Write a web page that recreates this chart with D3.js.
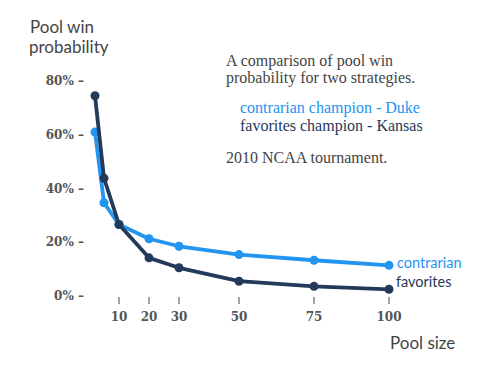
<!DOCTYPE html>
<html>
<head>
<meta charset="utf-8">
<script src="https://cdn.jsdelivr.net/npm/d3@7"></script>
<style>
  body { margin: 0; background: #fff; }
  svg { display: block; }
  .tick-lbl { font-family: "DejaVu Serif", serif; font-weight: bold; font-size: 12px; fill: #555; }
  .ttl { font-family: "Lato", sans-serif; font-size: 17px; fill: #444; }
  .note { font-family: "Liberation Serif", serif; font-size: 16px; fill: #444; }
</style>
</head>
<body>
<div id="chart"></div>
<script>
const poolSizes = [2, 5, 10, 20, 30, 50, 75, 100];
const contrarian = [61, 34.7, 26.6, 21.3, 18.5, 15.4, 13.3, 11.4];
const favorites = [74.5, 43.8, 26.6, 14.2, 10.5, 5.5, 3.6, 2.5];
const xTicks = [10, 20, 30, 50, 75, 100];
const yTicks = [0, 20, 40, 60, 80];
const noteLines = [
  { text: "A comparison of pool win", cls: "plain" },
  { text: "probability for two strategies.", cls: "plain" },
  { text: "contrarian champion - Duke", cls: "blue" },
  { text: "favorites champion - Kansas", cls: "dark" },
  { text: "2010 NCAA tournament.", cls: "plain" }
];

const width = 489, height = 374;
const blue = "#2394f0", dark = "#243a5a";

const svg = d3.select("#chart")
    .append("svg")
    .attr("width", width)
    .attr("height", height);

const xScale = d3.scaleLinear().domain([0, 100]).range([89, 389]);
const yScale = d3.scaleLinear().domain([0, 80]).range([296, 81]);

// y labels with dash
svg.append("g").selectAll("text")
    .data(yTicks)
    .join("text")
    .attr("class", "tick-lbl")
    .attr("x", 84)
    .attr("y", d => yScale(d))
    .attr("dy", "0.35em")
    .attr("text-anchor", "end")
    .text(d => d + "% \u2013");

// x ticks
const xg = svg.append("g");
xg.selectAll("line")
    .data(xTicks)
    .join("line")
    .attr("x1", d => xScale(d)).attr("x2", d => xScale(d))
    .attr("y1", 297).attr("y2", 304)
    .style("stroke", "#666")
    .style("stroke-width", 1.2);
xg.selectAll("text")
    .data(xTicks)
    .join("text")
    .attr("class", "tick-lbl")
    .attr("x", d => xScale(d))
    .attr("y", 321)
    .attr("text-anchor", "middle")
    .text(d => d);

const line = d3.line()
    .x(d => xScale(d[0]))
    .y(d => yScale(d[1]));

function drawSeries(vals, color) {
    const pts = poolSizes.map((p, i) => [p, vals[i]]);
    svg.append("path")
        .datum(pts)
        .attr("d", line)
        .style("fill", "none")
        .style("stroke", color)
        .style("stroke-width", 3.8)
        .style("stroke-linejoin", "round");
    svg.append("g").selectAll("circle")
        .data(pts)
        .join("circle")
        .attr("cx", d => xScale(d[0]))
        .attr("cy", d => yScale(d[1]))
        .attr("r", 4.5)
        .style("fill", color);
}
drawSeries(contrarian, blue);
drawSeries(favorites, dark);

// end labels
svg.append("text").attr("class", "ttl")
    .attr("x", xScale(100) + 8).attr("y", yScale(contrarian[7]) + 3)
    .style("font-size", "14.5px").style("fill", blue)
    .text("contrarian");
svg.append("text").attr("class", "ttl")
    .attr("x", xScale(100) + 7).attr("y", yScale(favorites[7]) - 2)
    .style("font-size", "14.5px").style("fill", dark)
    .text("favorites");

// axis titles
svg.append("text").attr("class", "ttl").attr("x", 30).attr("y", 33).text("Pool win");
svg.append("text").attr("class", "ttl").attr("x", 29).attr("y", 53).text("probability");
svg.append("text").attr("class", "ttl").attr("x", 390).attr("y", 349).text("Pool size");

// note block
const noteY = [66, 83, 113, 131, 163];
svg.append("g").selectAll("text")
    .data(noteLines)
    .join("text")
    .attr("class", "note")
    .attr("x", d => d.cls === "plain" ? 226 : 240)
    .attr("y", (d, i) => noteY[i])
    .style("fill", d => d.cls === "blue" ? blue : d.cls === "dark" ? dark : "#444")
    .text(d => d.text);
</script>
</body>
</html>
